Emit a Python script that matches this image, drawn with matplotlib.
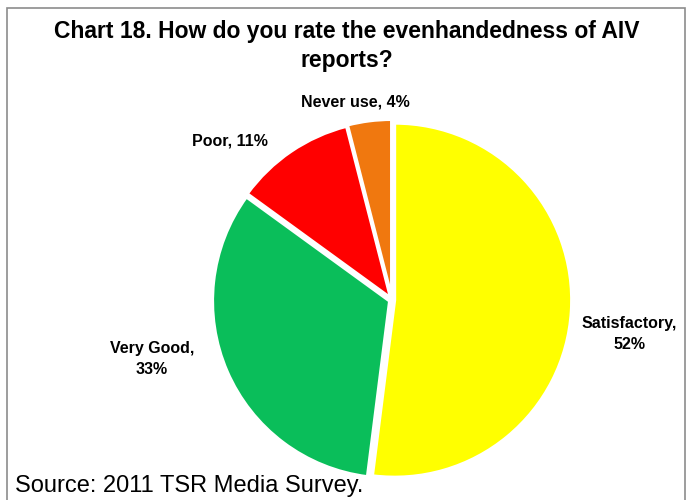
import matplotlib
matplotlib.use("Agg")
import matplotlib.pyplot as plt
from matplotlib.patches import Rectangle

plt.rcParams['font.family'] = ['Liberation Sans', 'DejaVu Sans']

# Survey responses
categories = ["Satisfactory", "Very Good", "Poor", "Never use"]
shares = [52, 33, 11, 4]
colors = ["#FFFF00", "#0ABE5A", "#FF0000", "#F0780F"]

title = "Chart 18. How do you rate the evenhandedness of AIV\nreports?"
source = "Source: 2011 TSR Media Survey."

W, H = 691, 500
fig = plt.figure(figsize=(W / 100, H / 100), dpi=100)

# outer frame
fig.add_artist(Rectangle((7 / W, -0.1), (685 - 7) / W, 1.1 - 8 / H,
                         transform=fig.transFigure, fill=False,
                         edgecolor="#8c8c8c", linewidth=1.2))

cx, cy, R = 392, 300, 177
ax = fig.add_axes([(cx - R) / W, (H - cy - R) / H, 2 * R / W, 2 * R / H])
ax.pie(shares, colors=colors, startangle=90, counterclock=False,
       explode=[0.015, 0.015, 0.015, 0.02],
       wedgeprops=dict(edgecolor="white", linewidth=2.2))
ax.set_xlim(-1, 1)
ax.set_ylim(-1, 1)
ax.set_aspect("equal")
ax.axis("off")


def to_data(px, py):
    return (px - cx) / R, (cy - py) / R


label_pos = [(629, 334), (152, 359), (230, 141), (355, 102)]
labels = ["Satisfactory,\n52%", "Very Good,\n33%", "Poor, 11%", "Never use, 4%"]
for (px, py), lab in zip(label_pos, labels):
    x, y = to_data(px, py)
    ax.text(x, y, lab, ha="center", va="center", fontsize=11.5,
            fontweight="bold", linespacing=1.55)

fig.text(347 / W, 1 - 46 / H, title, ha="center", va="center",
         fontsize=16.5, fontweight="bold", linespacing=1.32)
fig.text(15 / W, 1 - 486 / H, source, ha="left", va="center", fontsize=17)

fig.savefig("out.png", dpi=100)
